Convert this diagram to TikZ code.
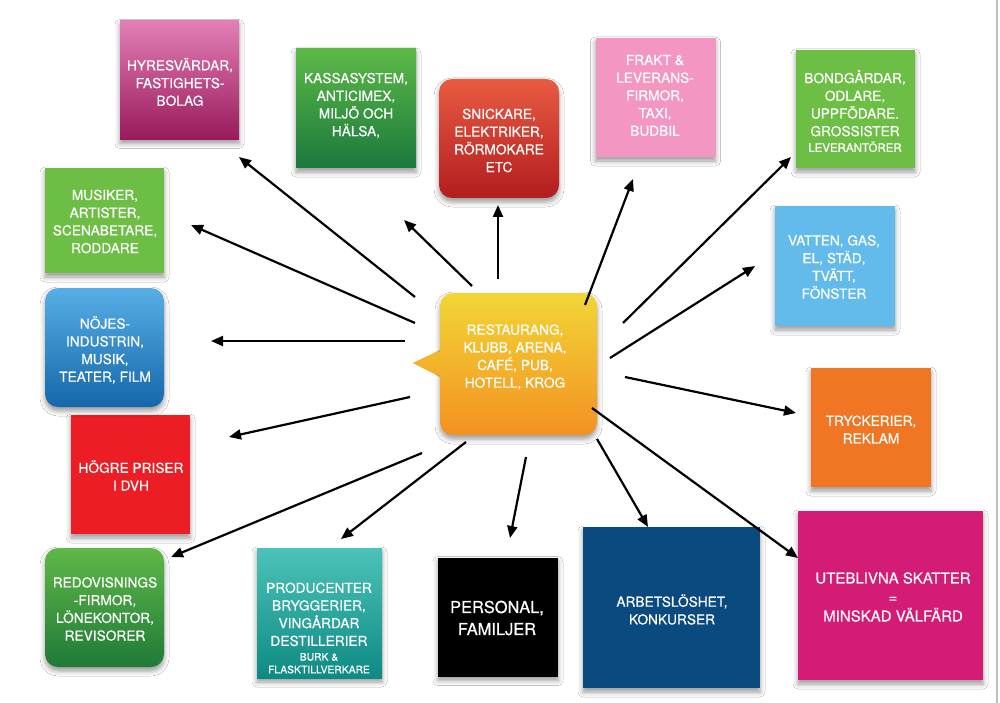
\documentclass[tikz,border=0pt]{standalone}
\usepackage{fontspec}
\setmainfont{TeX Gyre Heros}[RawFeature={embolden=0.6}]
\usetikzlibrary{arrows.meta,shadows.blur}
\definecolor{hyrT}{HTML}{E37FB6}
\definecolor{hyrB}{HTML}{991A5C}
\definecolor{kasT}{HTML}{5CB947}
\definecolor{kasB}{HTML}{1A793D}
\definecolor{snT}{HTML}{E95B43}
\definecolor{snB}{HTML}{B21D1E}
\definecolor{frakt}{HTML}{F396C2}
\definecolor{lgreen}{HTML}{6DBE45}
\definecolor{vatten}{HTML}{62BBEA}
\definecolor{tryck}{HTML}{F07623}
\definecolor{utebl}{HTML}{D41B76}
\definecolor{arbets}{HTML}{0B4A7E}
\definecolor{prodT}{HTML}{4CC3B8}
\definecolor{prodB}{HTML}{0E8A84}
\definecolor{redT}{HTML}{5FB847}
\definecolor{redB}{HTML}{1F7A38}
\definecolor{hogre}{HTML}{EC1D25}
\definecolor{nojT}{HTML}{57AFE5}
\definecolor{nojB}{HTML}{1567AA}
\definecolor{hubT}{HTML}{F2D636}
\definecolor{hubB}{HTML}{F39121}
\begin{document}
\begin{tikzpicture}[x=1pt,y=-1pt,
  sq/.style={draw=none, inner sep=0pt,
    blur shadow={shadow xshift=0pt, shadow yshift=-4pt, shadow blur radius=5pt, shadow opacity=40}},
  rnd/.style={rounded corners=13pt},
  lbl/.style={text=white, align=center, inner sep=0pt,
    font=\fontsize{13.7}{17.7}\selectfont},
  arr/.style={line width=2.2pt, -{Triangle[length=12pt,width=10pt]}}]
\useasboundingbox (0,0) rectangle (1000,703);
\fill[white] (0,0) rectangle (1000,703);
\draw[black!25, line width=1.2pt] (997,0) -- (997,703);

% boxes
\node[sq, minimum width=119pt, minimum height=119pt, top color=hyrT, bottom color=hyrB] (hyr) at (179.5,80) {};
\node[sq, minimum width=120pt, minimum height=119pt, top color=kasT, bottom color=kasB] (kassa) at (356,108.5) {};
\node[sq, rnd, minimum width=120pt, minimum height=119pt, top color=snT, bottom color=snB] (snick) at (499,138.5) {};
\node[sq, minimum width=120pt, minimum height=119pt, fill=frakt] (frakt) at (655.5,97.5) {};
\node[sq, minimum width=119pt, minimum height=118pt, fill=lgreen] (bond) at (855.5,109) {};
\node[sq, minimum width=120pt, minimum height=120pt, fill=vatten] (vatten) at (835,266) {};
\node[sq, minimum width=120pt, minimum height=119pt, fill=tryck] (tryck) at (871,427.5) {};
\node[sq, minimum width=185pt, minimum height=169pt, fill=utebl] (utebl) at (890.5,595.5) {};
\node[sq, minimum width=177pt, minimum height=161pt, fill=arbets] (arbets) at (671.5,607.5) {};
\node[sq, minimum width=120pt, minimum height=119pt, fill=black] (personal) at (498,617) {};
\node[sq, minimum width=125pt, minimum height=130pt, top color=prodT, bottom color=prodB] (prod) at (319.5,613) {};
\node[sq, rnd, minimum width=119pt, minimum height=119pt, top color=redT, bottom color=redB] (redov) at (104.5,607.5) {};
\node[sq, minimum width=119pt, minimum height=119pt, fill=hogre] (hogre) at (130.5,474.5) {};
\node[sq, rnd, minimum width=119pt, minimum height=119pt, top color=nojT, bottom color=nojB] (nojes) at (104.5,347.5) {};
\node[sq, minimum width=119pt, minimum height=105pt, fill=lgreen] (musiker) at (104.5,220.5) {};

% hub with pointer
\path[top color=hubT!60!hubB, bottom color=hubT!40!hubB] (442,349) -- (413,363) -- (442,378) -- cycle;
\node[sq, rnd, minimum width=157pt, minimum height=142pt, top color=hubT, bottom color=hubB] (hub) at (518.5,364) {};
\path[top color=hubT!60!hubB, bottom color=hubT!40!hubB] (445,349) -- (413,363) -- (445,378) -- cycle;

% labels
\node[lbl] (hyr-t) at (180,82) {HYRESVÄRDAR,\\FASTIGHETS-\\BOLAG};
\node[lbl] (kassa-t) at (356,105.5) {KASSASYSTEM,\\ANTICIMEX,\\MILJÖ OCH\\HÄLSA,};
\node[lbl] (snick-t) at (499,140.5) {SNICKARE,\\ELEKTRIKER,\\RÖRMOKARE\\ETC};
\node[lbl] (frakt-t) at (655,95.5) {FRAKT \&\\LEVERANS-\\FIRMOR,\\TAXI,\\BUDBIL};
\node[lbl] (bond-t) at (855,111) {BONDGÅRDAR,\\ODLARE,\\UPPFÖDARE.\\GROSSISTER\\[-2pt]{\fontsize{11.5}{14}\selectfont LEVERANTÖRER}};
\node[lbl] (vatten-t) at (834,267) {VATTEN, GAS,\\EL, STÄD,\\TVÄTT,\\FÖNSTER};
\node[lbl] (tryck-t) at (871,429.5) {TRYCKERIER,\\REKLAM};
\node[lbl, font=\fontsize{15}{19}\selectfont] (utebl-t) at (893,597) {UTEBLIVNA SKATTER\\=\\MINSKAD VÄLFÄRD};
\node[lbl] (arbets-t) at (672,609.5) {ARBETSLÖSHET,\\KONKURSER};
\node[lbl, font=\fontsize{16.4}{22}\selectfont] (personal-t) at (497,618) {PERSONAL,\\FAMILJER};
\node[lbl] (prod-t) at (319,628) {PRODUCENTER\\BRYGGERIER,\\VINGÅRDAR\\DESTILLERIER\\[-3pt]{\fontsize{10.3}{12.5}\selectfont BURK \&}\\[-5pt]{\fontsize{10.3}{12.5}\selectfont FLASKTILLVERKARE}};
\node[lbl] (redov-t) at (105,609) {REDOVISNINGS\\-FIRMOR,\\LÖNEKONTOR,\\REVISORER};
\node[lbl] (hogre-t) at (131,475.5) {HÖGRE PRISER\\I DVH};
\node[lbl] (nojes-t) at (105,350) {NÖJES-\\INDUSTRIN,\\MUSIK,\\TEATER, FILM};
\node[lbl] (musiker-t) at (105,221.5) {MUSIKER,\\ARTISTER,\\SCENABETARE,\\RODDARE};
\node[lbl] (hub-t) at (515,357) {RESTAURANG,\\KLUBB, ARENA,\\CAFÉ, PUB,\\HOTELL, KROG};

% connector ends
\coordinate (s-hyr) at (415,297);   \coordinate (e-hyr) at (239,157);
\coordinate (s-mus) at (415,323);   \coordinate (e-mus) at (191,225);
\coordinate (s-kas) at (472,286);   \coordinate (e-kas) at (404,220);
\coordinate (s-sni) at (498,279);   \coordinate (e-sni) at (498,205);
\coordinate (s-fra) at (585,305);   \coordinate (e-fra) at (633,179);
\coordinate (s-bon) at (623,323);   \coordinate (e-bon) at (791,157);
\coordinate (s-vat) at (610,358);   \coordinate (e-vat) at (755,266);
\coordinate (s-try) at (625,377);   \coordinate (e-try) at (796,413);
\coordinate (s-ute) at (592,408);   \coordinate (e-ute) at (798,558);
\coordinate (s-arb) at (597,439);   \coordinate (e-arb) at (648,527);
\coordinate (s-per) at (526,457);   \coordinate (e-per) at (510,538);
\coordinate (s-pro) at (466,442);   \coordinate (e-pro) at (341,539);
\coordinate (s-red) at (422,453);   \coordinate (e-red) at (171,557);
\coordinate (s-hog) at (410,397);   \coordinate (e-hog) at (229,437);
\coordinate (s-noj) at (405,341);   \coordinate (e-noj) at (211,341);

\draw[arr] (s-hyr) -- (e-hyr);
\draw[arr] (s-mus) -- (e-mus);
\draw[arr] (s-kas) -- (e-kas);
\draw[arr] (s-sni) -- (e-sni);
\draw[arr] (s-fra) -- (e-fra);
\draw[arr] (s-bon) -- (e-bon);
\draw[arr] (s-vat) -- (e-vat);
\draw[arr] (s-try) -- (e-try);
\draw[arr] (s-ute) -- (e-ute);
\draw[arr] (s-arb) -- (e-arb);
\draw[arr] (s-per) -- (e-per);
\draw[arr] (s-pro) -- (e-pro);
\draw[arr] (s-red) -- (e-red);
\draw[arr] (s-hog) -- (e-hog);
\draw[arr] (s-noj) -- (e-noj);
\end{tikzpicture}
\end{document}
